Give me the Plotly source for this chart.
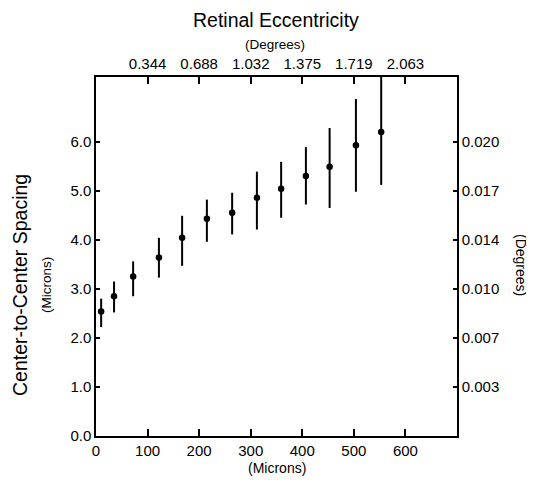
import plotly.graph_objects as go

# ---- data ----
x_microns = [10, 35, 72, 122, 167, 215, 264, 312, 359, 407, 453, 504, 553]
spacing = [2.54, 2.85, 3.25, 3.64, 4.04, 4.43, 4.55, 4.86, 5.04, 5.30, 5.49, 5.93, 6.20]
err_plus = [0.26, 0.30, 0.31, 0.40, 0.45, 0.39, 0.41, 0.53, 0.55, 0.59, 0.79, 0.94, 1.15]
err_minus = [0.32, 0.33, 0.40, 0.41, 0.57, 0.47, 0.44, 0.65, 0.59, 0.58, 0.84, 0.95, 1.08]

bottom_ticks = [0, 100, 200, 300, 400, 500, 600]
bottom_labels = ["0", "100", "200", "300", "400", "500", "600"]
top_ticks = [100, 200, 300, 400, 500, 600]
top_labels = ["0.344", "0.688", "1.032", "1.375", "1.719", "2.063"]
left_ticks = [0, 1, 2, 3, 4, 5, 6]
left_labels = ["0.0", "1.0", "2.0", "3.0", "4.0", "5.0", "6.0"]
right_ticks = [1, 2, 3, 4, 5, 6]
right_labels = ["0.003", "0.007", "0.010", "0.014", "0.017", "0.020"]

X_RANGE = [0, 700]
Y_RANGE = [0, 7.32]

FONT = "Liberation Sans, Arial, sans-serif"

# the page body has an 8px default margin, so the figure is drawn 8px in
OFF = 8
W, H = 534 - OFF, 483 - OFF
L, T = 96 - OFF, 77 - OFF
R = W - (457 - OFF)
B = H - (436 - OFF)
PW, PH = W - L - R, H - T - B


def px(x):
    return (x - OFF - L) / PW


def py(y):
    return (H - B - (y - OFF)) / PH


fig = go.Figure()
fig.add_trace(go.Scatter(
    x=x_microns, y=spacing, mode="markers",
    marker=dict(color="black", size=6.5),
    error_y=dict(type="data", symmetric=False, array=err_plus, arrayminus=err_minus,
                 color="black", thickness=2, width=0),
    showlegend=False, hoverinfo="skip",
))
fig.add_trace(go.Scatter(
    x=x_microns, y=spacing, mode="markers", xaxis="x2", yaxis="y2",
    marker=dict(color="rgba(0,0,0,0)", size=1),
    showlegend=False, hoverinfo="skip",
))

axis_common = dict(showgrid=False, zeroline=False, showline=True, linecolor="black",
                   linewidth=1.5, ticks="inside", tickcolor="black", tickwidth=1.5,
                   tickfont=dict(family=FONT, size=15, color="black"))

fig.update_layout(
    width=W, height=H,
    margin=dict(l=L, r=R, t=T, b=B, pad=0),
    paper_bgcolor="white", plot_bgcolor="white",
    font=dict(family=FONT, color="black"),
    xaxis=dict(range=X_RANGE, tickvals=bottom_ticks, ticktext=bottom_labels,
               ticklen=7, **axis_common),
    xaxis2=dict(range=X_RANGE, overlaying="x", side="top", tickvals=top_ticks,
                ticktext=top_labels, ticklen=7, **axis_common),
    yaxis=dict(range=Y_RANGE, tickvals=left_ticks, ticktext=left_labels,
               ticklen=4, **axis_common),
    yaxis2=dict(range=Y_RANGE, overlaying="y", side="right", tickvals=right_ticks,
                ticktext=right_labels, ticklen=4, **axis_common),
)

ann = [
    ("Retinal Eccentricity", 276, 20, 19.5, 0),
    ("(Degrees)", 275, 44, 13.5, 0),
    ("Center-to-Center Spacing", 20, 285, 19.5, -90),
    ("(Microns)", 46, 285, 13.5, -90),
    ("(Degrees)", 521, 265, 14, 90),
    ("(Microns)", 277, 468, 14, 0),
]
for text, x, y, size, ang in ann:
    fig.add_annotation(text=text, x=px(x), y=py(y), xref="paper", yref="paper",
                       xanchor="center", yanchor="middle", showarrow=False,
                       textangle=ang, font=dict(family=FONT, size=size, color="black"))

fig.write_html("out.html")
